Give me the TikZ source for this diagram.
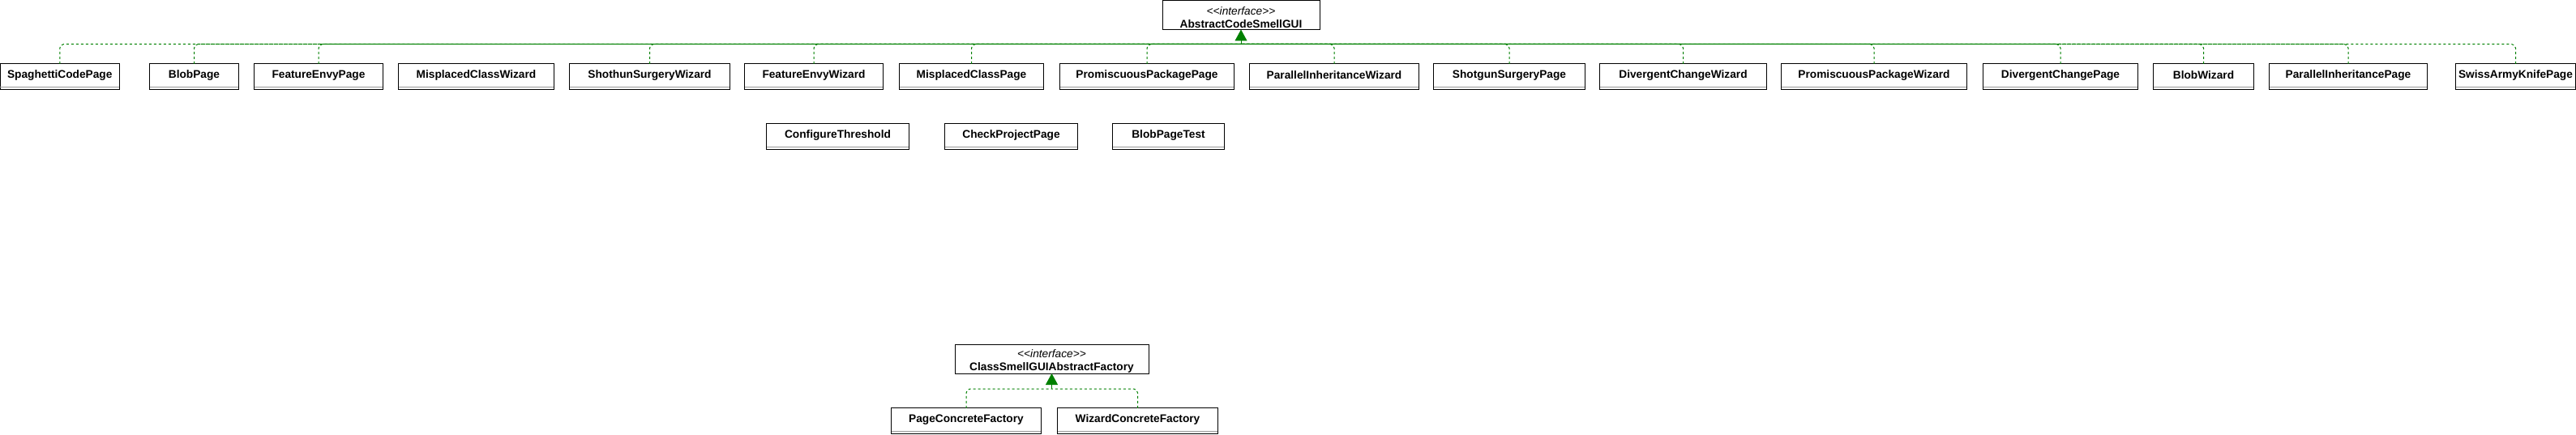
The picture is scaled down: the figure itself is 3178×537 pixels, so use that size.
\documentclass[tikz,border=0pt]{standalone}
\usepackage{fontspec}
\setmainfont{Liberation Sans}
\usepackage{tikz}
\usetikzlibrary{arrows.meta, calc}
\definecolor{umlgreen}{HTML}{008000}
\definecolor{sepgray}{HTML}{999999}
\newcommand{\umlclass}[5]{%
    % Header area of the class box (name, left, right, top, label)
    \node[classname, minimum width={#3-#2}] (#1) at ({(#2+#3)/2}, {#4+14}) {#5};
    % Outer boundary with empty member compartment
    \draw[classline] (#1.north west) rectangle ([yshift=-3pt]#1.south east);
    % Compartment division line
    \draw[sepline] (#1.south west) -- (#1.south east);
}
\newcommand{\umliface}[5]{%
    % Stereotype and name (name, left, right, top, label)
    \node[ifacetext] (#1) at ({(#2+#3)/2}, {#4+21})
        {{\itshape\mdseries <\kern0pt<interface>\kern0pt>}\\#5};
    % Outer boundary
    \draw[classline] (#2,#4) rectangle (#3,#4+36);
    % Bottom entry coordinate for the realization arrow
    \coordinate (#1-bottom) at ({(#2+#3)/2}, {#4+36});
}

\begin{document}
\begin{tikzpicture}[
        x=1pt, y=-1pt,
        classname/.style={minimum height=28, inner sep=0pt,
            font=\fontsize{13.7}{16}\selectfont\bfseries},
        classline/.style={draw=black, line width=1pt},
        sepline/.style={draw=sepgray, line width=1pt},
        ifacetext/.style={inner sep=0pt, align=center,
            font=\fontsize{13.7}{16}\selectfont\bfseries},
        realize_style/.style={draw=umlgreen, line width=1pt,
            dash pattern=on 3pt off 3pt, rounded corners=5pt},
        head_style/.style={draw=umlgreen, fill=umlgreen, line width=1pt,
            -{Triangle[length=14pt, width=15pt]}}
    ]
    \useasboundingbox (0,0) rectangle (3178,537);

    % =========================================================================
    % 1. GUI HIERARCHY
    % =========================================================================

    % Interface
    \umliface{AbstractGUI}{1434}{1628}{0.5}{AbstractCodeSmellGUI}

    % First row of classes (top = 79)
    \umlclass{SpaghettiCodePage}{0.5}{147}{79}{SpaghettiCodePage}
    \umlclass{BlobPage}{185}{294}{79}{BlobPage}
    \umlclass{FeatureEnvyPage}{314}{472}{79}{FeatureEnvyPage}
    \umlclass{MisplacedClassWizard}{492}{683}{79}{MisplacedClassWizard}
    \umlclass{ShothunSurgeryWizard}{703}{900}{79}{ShothunSurgeryWizard}
    \umlclass{FeatureEnvyWizard}{919}{1089}{79}{FeatureEnvyWizard}
    \umlclass{MisplacedClassPage}{1110}{1287}{79}{MisplacedClassPage}
    \umlclass{PromiscuousPackagePage}{1308}{1522}{79}{PromiscuousPackagePage}
    \umlclass{ParallelInheritanceWizard}{1542}{1750}{79}{ParallelInheritanceWizard}
    \umlclass{ShotgunSurgeryPage}{1769}{1955}{79}{ShotgunSurgeryPage}
    \umlclass{DivergentChangeWizard}{1974}{2179}{79}{DivergentChangeWizard}
    \umlclass{PromiscuousPackageWizard}{2198}{2426}{79}{PromiscuousPackageWizard}
    \umlclass{DivergentChangePage}{2447}{2637}{79}{DivergentChangePage}
    \umlclass{BlobWizard}{2657}{2780}{79}{BlobWizard}
    \umlclass{ParallelInheritancePage}{2800}{2994}{79}{ParallelInheritancePage}
    \umlclass{SwissArmyKnifePage}{3030}{3177}{79}{SwissArmyKnifePage}

    % Second row of classes (top = 153)
    \umlclass{ConfigureThreshold}{946}{1121}{153}{ConfigureThreshold}
    \umlclass{CheckProjectPage}{1166}{1329}{153}{CheckProjectPage}
    \umlclass{BlobPageTest}{1373}{1510}{153}{BlobPageTest}

    % Realization links
    \coordinate (guiJoin) at ($(AbstractGUI-bottom)+(0,18)$);
    \draw[realize_style] (SpaghettiCodePage.north) |- (guiJoin);
    \draw[realize_style] (BlobPage.north) |- (guiJoin);
    \draw[realize_style] (FeatureEnvyPage.north) |- (guiJoin);
    \draw[realize_style] (ShothunSurgeryWizard.north) |- (guiJoin);
    \draw[realize_style] (FeatureEnvyWizard.north) |- (guiJoin);
    \draw[realize_style] (MisplacedClassPage.north) |- (guiJoin);
    \draw[realize_style] (PromiscuousPackagePage.north) |- (guiJoin);
    \draw[realize_style] (ParallelInheritanceWizard.north) |- (guiJoin);
    \draw[realize_style] (ShotgunSurgeryPage.north) |- (guiJoin);
    \draw[realize_style] (DivergentChangeWizard.north) |- (guiJoin);
    \draw[realize_style] (PromiscuousPackageWizard.north) |- (guiJoin);
    \draw[realize_style] (DivergentChangePage.north) |- (guiJoin);
    \draw[realize_style] (BlobWizard.north) |- (guiJoin);
    \draw[realize_style] (ParallelInheritancePage.north) |- (guiJoin);
    \draw[realize_style] (SwissArmyKnifePage.north) |- (guiJoin);
    \draw[head_style] (guiJoin) -- (AbstractGUI-bottom);

    % =========================================================================
    % 2. FACTORY HIERARCHY
    % =========================================================================
    \umliface{SmellFactory}{1178}{1417}{425}{ClassSmellGUIAbstractFactory}
    \umlclass{PageConcreteFactory}{1100}{1284}{504}{PageConcreteFactory}
    \umlclass{WizardConcreteFactory}{1305}{1502}{504}{WizardConcreteFactory}

    \coordinate (factJoin) at ($(SmellFactory-bottom)+(0,19)$);
    \draw[realize_style] (PageConcreteFactory.north) |- (factJoin);
    \draw[realize_style] (WizardConcreteFactory.north) |- (factJoin);
    \draw[head_style] (factJoin) -- (SmellFactory-bottom);

\end{tikzpicture}
\end{document}
